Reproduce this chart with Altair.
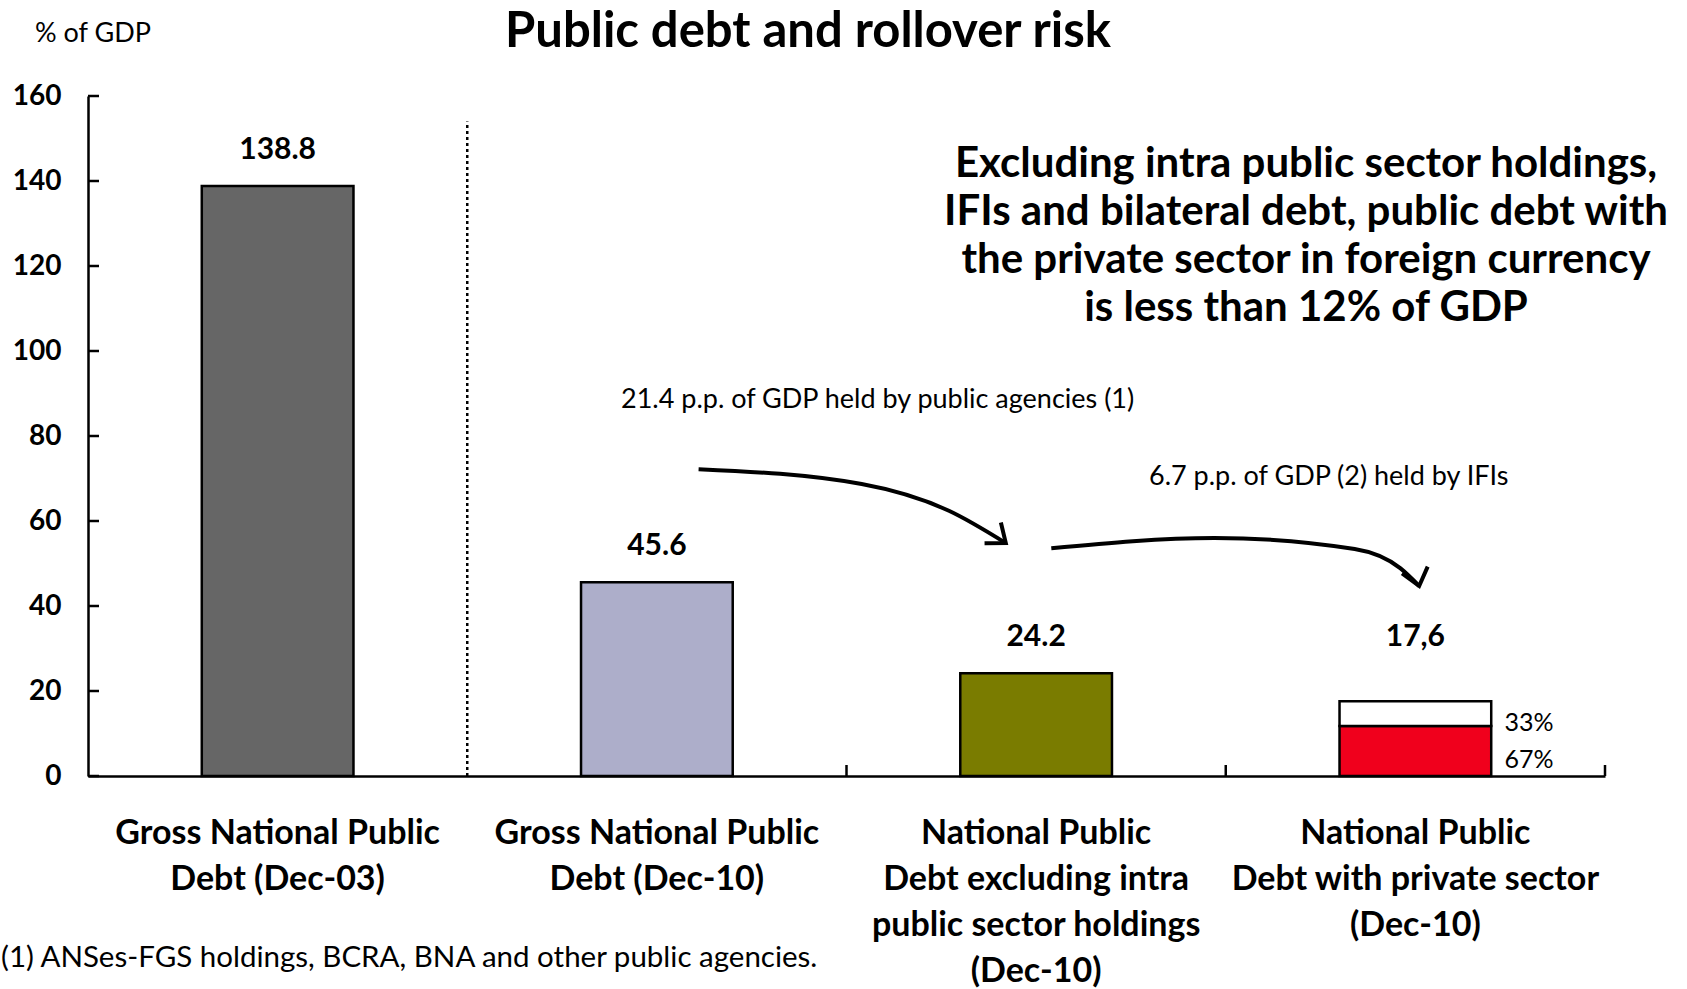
import altair as alt
import pandas as pd

# ---------------- data ----------------
categories = [
    "Gross National Public|Debt (Dec-03)",
    "Gross National Public|Debt (Dec-10)",
    "National Public|Debt excluding intra|public sector holdings|(Dec-10)",
    "National Public|Debt with private sector|(Dec-10)",
]
totals = [138.8, 45.6, 24.2, 17.6]
total_labels = ["138.8", "45.6", "24.2", "17,6"]
bar_colors = ["#666666", "#ADAECA", "#7A7C00"]
last_shares = [0.67, 0.33]
last_share_labels = ["67%", "33%"]
last_share_colors = ["#F0001C", "#FFFFFF"]
y_ticks = [0, 20, 40, 60, 80, 100, 120, 140, 160]

# arrows, x in category units (0..4 across the plot), y in % of GDP
arrow1_x = [1.61, 2.04, 2.27, 2.42]
arrow1_y = [72.2, 68.7, 62.4, 54.8]
arrow2_x = [2.54, 2.97, 3.34, 3.46, 3.51]
arrow2_y = [53.6, 56.0, 53.4, 48.9, 44.7]

title_text = "Public debt and rollover risk"
unit_text = "% of GDP"
box_text = ["Excluding intra public sector holdings,",
            "IFIs and bilateral debt, public debt with",
            "the private sector in foreign currency",
            "is less than 12% of GDP"]
note1_text = "21.4 p.p. of GDP held by public agencies (1)"
note2_text = "6.7 p.p. of GDP (2) held by IFIs"
foot_text = "(1) ANSes-FGS holdings, BCRA, BNA and other public agencies."

FONT = "Lato"

# ---------------- tables ----------------
seg_rows = []
for i in range(3):
    seg_rows.append({"cat": categories[i], "y0": 0.0, "y1": totals[i], "color": bar_colors[i]})
base = 0.0
for s, c in zip(last_shares, last_share_colors):
    top = base + totals[3] * s
    seg_rows.append({"cat": categories[3], "y0": base, "y1": top, "color": c})
    base = top
segs = pd.DataFrame(seg_rows)

share_rows = []
base = 0.0
for s, lab in zip(last_shares, last_share_labels):
    top = base + totals[3] * s
    share_rows.append({"cat": categories[3], "mid": (base + top) / 2, "lab": lab})
    base = top
shares = pd.DataFrame(share_rows)

vals = pd.DataFrame({"cat": categories, "v": totals, "lab": total_labels})
ticks_df = pd.DataFrame({"t": y_ticks})
bounds = pd.DataFrame({"pos": [2, 3, 4]})
divider = pd.DataFrame({"pos": [1], "y0": [0], "y1": [154]})

arrows = pd.DataFrame(
    [{"id": "a1", "o": k, "px": x, "py": y} for k, (x, y) in enumerate(zip(arrow1_x, arrow1_y))]
    + [{"id": "a2", "o": k, "px": x, "py": y} for k, (x, y) in enumerate(zip(arrow2_x, arrow2_y))]
)
heads = pd.DataFrame({"px": [arrow1_x[-1], arrow2_x[-1]],
                      "py": [arrow1_y[-1], arrow2_y[-1]],
                      "ang": [38, 75]})

# ---------------- scales ----------------
xband = alt.Scale(domain=categories, paddingInner=0.6, paddingOuter=0.3)
yscale = alt.Scale(domain=[0, 160], nice=False, zero=True)
xq = alt.Scale(domain=[0, 4], nice=False, zero=False)

x_axis = alt.Axis(
    title=None, labelAngle=0, ticks=False, domain=True, domainColor="black",
    domainWidth=2.5, labelExpr="split(datum.label, '|')", labelFont=FONT,
    labelFontWeight="bold", labelFontSize=34, labelColor="black",
    labelLineHeight=46, labelPadding=40, labelLimit=500, labelBaseline="top",
)
y_axis = alt.Axis(
    title=None, values=y_ticks, ticks=False, grid=False, domain=True,
    domainColor="black", domainWidth=2.5, labelFont=FONT, labelFontWeight="bold",
    labelFontSize=28, labelColor="black", labelPadding=27,
)

bars = alt.Chart(segs).mark_bar(stroke="black", strokeWidth=2.5).encode(
    x=alt.X("cat:N", scale=xband, axis=x_axis, sort=categories),
    y=alt.Y("y0:Q", scale=yscale, axis=y_axis),
    y2="y1:Q",
    color=alt.Color("color:N", scale=None),
)

val_text = alt.Chart(vals.iloc[:3]).mark_text(
    font=FONT, fontWeight="bold", fontSize=30, baseline="alphabetic", dy=-27, color="black"
).encode(
    x=alt.X("cat:N", scale=xband, axis=None, sort=categories),
    y=alt.Y("v:Q", scale=yscale),
    text="lab:N",
)
val_text_last = alt.Chart(vals.iloc[3:]).mark_text(
    font=FONT, fontWeight="bold", fontSize=30, baseline="alphabetic", dy=-55, color="black"
).encode(
    x=alt.X("cat:N", scale=xband, axis=None, sort=categories),
    y=alt.Y("v:Q", scale=yscale),
    text="lab:N",
)

share_text = alt.Chart(shares).mark_text(
    font=FONT, fontSize=25, align="left", baseline="middle", dx=89, dy=9, color="black"
).encode(
    x=alt.X("cat:N", scale=xband, axis=None, sort=categories),
    y=alt.Y("mid:Q", scale=yscale),
    text="lab:N",
)

y_tick_marks = alt.Chart(ticks_df).mark_rule(color="black", strokeWidth=2.5).encode(
    y=alt.Y("t:Q", scale=yscale),
    x=alt.value(0), x2=alt.value(11),
)

x_tick_marks = alt.Chart(bounds).mark_rule(color="black", strokeWidth=2.5).encode(
    x=alt.X("pos:Q", scale=xq, axis=None),
    y=alt.value(680), y2=alt.value(669),
)

divider_line = alt.Chart(divider).mark_rule(color="black", strokeWidth=2.5, strokeDash=[3, 3]).encode(
    x=alt.X("pos:Q", scale=xq, axis=None),
    y=alt.Y("y0:Q", scale=yscale), y2="y1:Q",
)

arrow_lines = alt.Chart(arrows).mark_line(color="black", strokeWidth=4, interpolate="monotone").encode(
    x=alt.X("px:Q", scale=xq, axis=None),
    y=alt.Y("py:Q", scale=yscale),
    detail="id:N", order="o:Q",
)
arrow_heads = alt.Chart(heads).mark_point(
    shape="M -1 -0.8 L 0 0 L -1 0.8", filled=False, stroke="black", strokeWidth=4,
    size=1100, opacity=1,
).encode(
    x=alt.X("px:Q", scale=xq, axis=None),
    y=alt.Y("py:Q", scale=yscale),
    angle=alt.Angle("ang:Q", scale=None),
)

def label(text, x, y, size, weight="normal", align="left", baseline="middle"):
    kw = dict(font=FONT, fontSize=size, fontWeight=weight, align=align, baseline=baseline, color="black")
    return alt.Chart(pd.DataFrame({"t": [text]})).mark_text(**kw).encode(
        x=alt.value(x), y=alt.value(y), text="t:N"
    )

title = label(title_text, 720, -64, 49, weight="bold", align="center")
unit = label(unit_text, -53, -62, 27)
box = alt.Chart(pd.DataFrame({"t": [box_text]})).mark_text(
    font=FONT, fontSize=42, fontWeight="bold", align="center", baseline="middle",
    lineHeight=48, color="black"
).encode(x=alt.value(1218), y=alt.value(68), text="t")
note1 = label(note1_text, 533, 304, 27)
note2 = label(note2_text, 1061, 381, 27)
foot = label(foot_text, -87, 862, 29.5)

chart = alt.layer(
    bars, y_tick_marks, x_tick_marks, divider_line, val_text, val_text_last, share_text,
    arrow_lines, arrow_heads, title, unit, box, note1, note2, foot,
).resolve_scale(x="independent").properties(
    width=1517, height=680,
    padding={"left": 88, "top": 96, "right": 82, "bottom": 213},
    autosize=alt.AutoSizeParams(type="none"),
    background="white",
).configure_view(strokeWidth=0, stroke="transparent")

chart.save("out.html", embed_options={"renderer": "svg", "actions": False})
